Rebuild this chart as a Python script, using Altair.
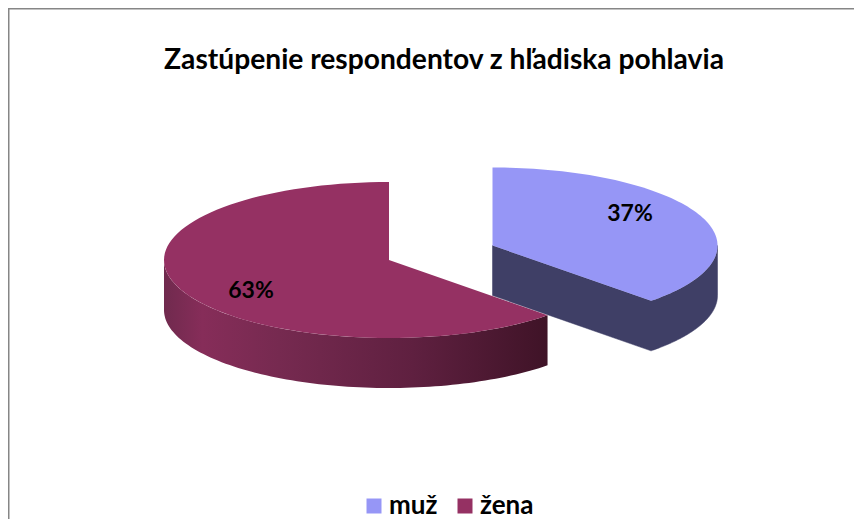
import math
import altair as alt
import pandas as pd

categories = ["muž", "žena"]
shares = [37, 63]
title_text = "Zastúpenie respondentov z hľadiska pohlavia"
top_colors = ["#9696f6", "#953163"]
side_man = "#3f3f66"
W, H = 846, 511
RX, RY, DEPTH = 225, 78, 50
VIEW_SKEW = 2.0
centers = {"muž": (484.5, 237.5), "žena": (381, 252)}
label_pos = {"muž": (622, 206), "žena": (243, 283)}


def rim(cx, cy, a0, a1, dy=0, n=90):
    pts = []
    for i in range(n + 1):
        a = math.radians(a0 + (a1 - a0) * i / n)
        pts.append((cx + RX * math.sin(a), cy - RY * math.cos(a) + dy))
    return pts


def rows(name, pts):
    return [{"part": name, "ord": i, "x": p[0], "y": p[1]} for i, p in enumerate(pts)]


a_split = shares[0] / sum(shares) * 360 + VIEW_SKEW
cx_m, cy_m = centers[categories[0]]
cx_w, cy_w = centers[categories[1]]

top_m = [(cx_m, cy_m)] + rim(cx_m, cy_m, 0, a_split)
top_w = [(cx_w, cy_w)] + rim(cx_w, cy_w, a_split, 360)
tip_m = rim(cx_m, cy_m, a_split, a_split, n=1)[0]

side_m_pts = (
    [(cx_m, cy_m), (cx_m, cy_m + DEPTH), (tip_m[0], tip_m[1] + DEPTH)]
    + rim(cx_m, cy_m, a_split, 90, DEPTH)
    + rim(cx_m, cy_m, 90, a_split)
    + [(cx_m, cy_m)]
)
side_w_pts = rim(cx_w, cy_w, a_split, 270) + rim(cx_w, cy_w, 270, a_split, DEPTH)

x_scale = alt.Scale(domain=[0, W], range=[0, W])
y_scale = alt.Scale(domain=[H, 0], range=[H, 0])
X = alt.X("x:Q", scale=x_scale, axis=None)
Y = alt.Y("y:Q", scale=y_scale, axis=None)

gradient = alt.Gradient(
    gradient="linear", x1=0, x2=1, y1=0, y2=0,
    stops=[
        alt.GradientStop(offset=0, color="#702a4e"),
        alt.GradientStop(offset=0.1, color="#862d59"),
        alt.GradientStop(offset=0.3, color="#762a50"),
        alt.GradientStop(offset=0.65, color="#5f2040"),
        alt.GradientStop(offset=1, color="#3f1327"),
    ],
)

side_man_layer = alt.Chart(pd.DataFrame(rows("m", side_m_pts))).mark_line(
    fill=side_man, stroke=side_man, strokeWidth=0.5
).encode(x=X, y=Y, order="ord:Q")

side_woman_layer = alt.Chart(pd.DataFrame(rows("w", side_w_pts))).mark_line(
    fill=gradient, strokeWidth=0
).encode(x=X, y=Y, order="ord:Q")

top_df = pd.DataFrame(rows(categories[0], top_m) + rows(categories[1], top_w))
tops = alt.Chart(top_df).mark_line(filled=True, strokeWidth=0).encode(
    x=X, y=Y, order="ord:Q",
    fill=alt.Fill(
        "part:N",
        scale=alt.Scale(domain=categories, range=top_colors),
        legend=alt.Legend(
            title=None, orient="none", legendX=353, legendY=485, direction="horizontal",
            symbolType="square", symbolSize=225, symbolStrokeWidth=0, symbolOpacity=1,
            labelFontSize=26, labelFont="Lato", labelFontWeight="bold", labelColor="#000000",
            labelOffset=2, columnPadding=14, labelLimit=200,
        ),
    ),
)

label_df = pd.DataFrame({
    "x": [label_pos[c][0] for c in categories],
    "y": [label_pos[c][1] for c in categories],
    "t": [f"{s}%" for s in shares],
})
labels = alt.Chart(label_df).mark_text(
    font="Lato", fontWeight="bold", fontSize=23, color="#000000"
).encode(x=X, y=Y, text="t:N")

title_df = pd.DataFrame({"x": [436], "y": [53], "t": [title_text]})
title = alt.Chart(title_df).mark_text(
    font="Lato", fontWeight="bold", fontSize=28.2, color="#000000"
).encode(x=X, y=Y, text="t:N")

frame_top = alt.Chart(pd.DataFrame({"x": [0], "x2": [W], "y": [0.5]})).mark_rule(
    color="#868686", strokeWidth=2
).encode(x=X, x2="x2:Q", y=Y)
frame_left = alt.Chart(pd.DataFrame({"x": [0.5], "y": [0], "y2": [H]})).mark_rule(
    color="#868686", strokeWidth=2
).encode(x=X, y=Y, y2="y2:Q")

chart = (
    alt.layer(frame_top, frame_left, side_man_layer, side_woman_layer, tops, labels, title)
    .properties(width=W, height=H, padding=0, autosize=alt.AutoSizeParams(type="none"))
    .configure_view(stroke=None)
)
chart.save("out.html", embed_options={"renderer": "svg", "actions": False})
